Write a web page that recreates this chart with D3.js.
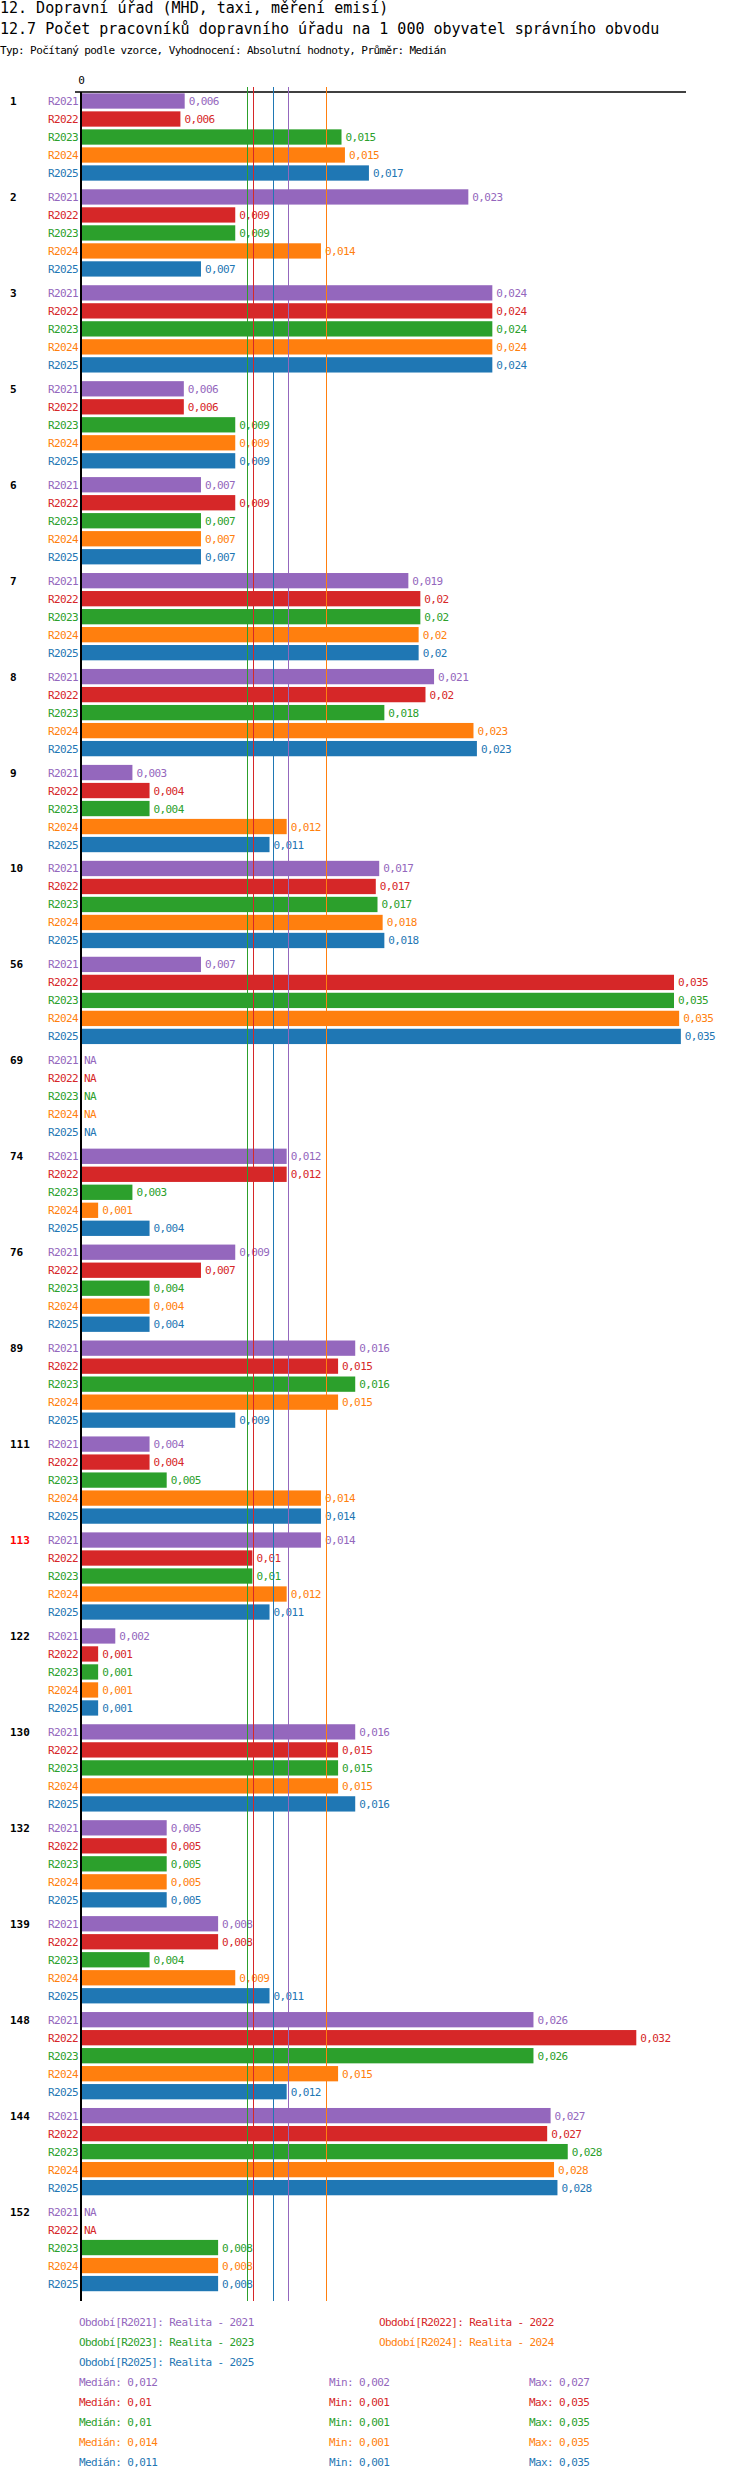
<!DOCTYPE html>
<html>
<head>
<meta charset="utf-8">
<script src="https://cdn.jsdelivr.net/npm/d3@7"></script>
<style>
  body { margin: 0; background: #fff; }
  text { font-family: "DejaVu Sans Mono", monospace; }
</style>
</head>
<body>
<div id="chart"></div>
<script>
// groups (správní obvody) and periods
var groups = ["1","2","3","5","6","7","8","9","10","56","69","74","76","89","111","113","122","130","132","139","148","144","152"];
var periods = ["R2021","R2022","R2023","R2024","R2025"];
var colors = ["#9467bd","#d62728","#2ca02c","#ff7f0e","#1f77b4"];
var highlight = "113";

// values per period, null = NA
var r2021 = [0.00605,0.0226,0.024,0.006,0.007,0.0191,0.0206,0.003,0.0174,0.007,null,0.012,0.009,0.016,0.004,0.014,0.002,0.016,0.005,0.008,0.0264,0.0274,null];
var r2022 = [0.0058,0.009,0.024,0.006,0.009,0.0198,0.0201,0.004,0.0172,0.0346,null,0.012,0.007,0.015,0.004,0.010,0.001,0.015,0.005,0.008,0.0324,0.0272,null];
var r2023 = [0.0152,0.009,0.024,0.009,0.007,0.0198,0.0177,0.004,0.0173,0.0346,null,0.003,0.004,0.016,0.005,0.010,0.001,0.015,0.005,0.004,0.0264,0.0284,0.008];
var r2024 = [0.0154,0.014,0.024,0.009,0.007,0.0197,0.0229,0.012,0.0176,0.0349,null,0.001,0.004,0.015,0.014,0.012,0.001,0.015,0.005,0.009,0.015,0.0276,0.008];
var r2025 = [0.0168,0.007,0.024,0.009,0.007,0.0197,0.0231,0.011,0.0177,0.035,null,0.004,0.004,0.009,0.014,0.011,0.001,0.016,0.005,0.011,0.012,0.0278,0.008];
var series = [r2021, r2022, r2023, r2024, r2025];

// summary per period
var medians = [0.0121, 0.01005, 0.0097, 0.0143, 0.0112];
var mins = [0.002, 0.001, 0.001, 0.001, 0.001];
var maxs = [0.027, 0.035, 0.035, 0.035, 0.035];
var legendNames = ["Období[R2021]: Realita - 2021","Období[R2022]: Realita - 2022","Období[R2023]: Realita - 2023","Období[R2024]: Realita - 2024","Období[R2025]: Realita - 2025"];

var titles = [
  "12. Dopravní úřad (MHD, taxi, měření emisí)",
  "12.7 Počet pracovníků dopravního úřadu na 1 000 obyvatel správního obvodu",
  "Typ: Počítaný podle vzorce, Vyhodnocení: Absolutní hodnoty, Průměr: Medián"
];

var w = 750, h = 2480;

var fmt = function(v) {
  return d3.format(".3f")(v).replace(/0+$/, "").replace(".", ",");
};

var svg = d3.select("#chart")
            .append("svg")
            .attr("width", w)
            .attr("height", h);

// titles
svg.append("text").attr("x", 0).attr("y", 13).style("font-size", "15px").text(titles[0]);
svg.append("text").attr("x", 0).attr("y", 34).style("font-size", "15px").text(titles[1]);
svg.append("text").attr("x", 0).attr("y", 54).style("font-size", "11px")
   .style("letter-spacing", "-0.6px").text(titles[2]);

var x = d3.scaleLinear().domain([0, 0.0353]).range([81, 686]);
var yGroup = d3.scaleBand().domain(groups).range([92, 2298.5]);
var yBar = d3.scaleBand().domain(periods).range([0, 90])
             .paddingInner(0.15).paddingOuter(0.075);

// top axis with only 0
svg.append("g")
   .attr("transform", "translate(0,92)")
   .call(d3.axisTop(x).tickValues([0]).tickSize(0).tickPadding(8).tickFormat(d3.format("d")))
   .call(function(g) {
     g.select(".domain").remove();
     g.selectAll("text").style("font-family", "DejaVu Sans Mono").style("font-size", "11px").attr("fill", "#000");
   });

svg.append("line")
   .attr("x1", 75).attr("x2", 686)
   .attr("y1", 92).attr("y2", 92)
   .attr("stroke", "#000").attr("stroke-width", 1.3);

// rows
var rows = [];
groups.forEach(function(g, gi) {
  periods.forEach(function(p, pi) {
    rows.push({ group: g, period: p, pi: pi, value: series[pi][gi] });
  });
});

var small = function(sel) {
  return sel.style("font-size", "11px").style("letter-spacing", "-0.6px");
};

var gGroups = svg.selectAll("g.grp")
    .data(groups)
    .enter()
    .append("g")
    .attr("class", "grp")
    .attr("transform", function(d) { return "translate(0," + yGroup(d) + ")"; });

gGroups.append("text")
    .attr("x", 10)
    .attr("y", yBar("R2021") + yBar.bandwidth() / 2 + 4)
    .style("font-size", "11px")
    .style("font-weight", "bold")
    .attr("fill", function(d) { return d === highlight ? "#ff0000" : "#000"; })
    .text(function(d) { return d; });

var rowG = svg.selectAll("g.row")
    .data(rows)
    .enter()
    .append("g")
    .attr("class", "row")
    .attr("transform", function(d) { return "translate(0," + (yGroup(d.group) + yBar(d.period)) + ")"; });

rowG.append("text")
    .attr("x", 78)
    .attr("y", yBar.bandwidth() / 2 + 4)
    .attr("text-anchor", "end")
    .attr("fill", function(d) { return colors[d.pi]; })
    .call(small)
    .text(function(d) { return d.period; });

rowG.filter(function(d) { return d.value != null; })
    .append("rect")
    .attr("x", x(0))
    .attr("y", 0)
    .attr("width", function(d) { return x(d.value) - x(0); })
    .attr("height", yBar.bandwidth())
    .attr("fill", function(d) { return colors[d.pi]; });

rowG.append("text")
    .attr("x", function(d) { return d.value == null ? x(0) + 3 : x(d.value) + 4; })
    .attr("y", yBar.bandwidth() / 2 + 4)
    .attr("fill", function(d) { return colors[d.pi]; })
    .call(small)
    .text(function(d) { return d.value == null ? "NA" : fmt(d.value); });

// median lines
svg.selectAll("line.med")
    .data(medians)
    .enter()
    .append("line")
    .attr("class", "med")
    .attr("x1", function(d) { return Math.round(x(d)) + 0.5; })
    .attr("x2", function(d) { return Math.round(x(d)) + 0.5; })
    .attr("y1", 87)
    .attr("y2", 2301)
    .attr("stroke", function(d, i) { return colors[i]; })
    .attr("stroke-width", 1);

// vertical axis line
svg.append("line")
   .attr("x1", 81).attr("x2", 81)
   .attr("y1", 92).attr("y2", 2301)
   .attr("stroke", "#000").attr("stroke-width", 2);

// legend
svg.selectAll("text.leg")
    .data(legendNames)
    .enter()
    .append("text")
    .attr("class", "leg")
    .attr("x", function(d, i) { return i % 2 === 0 ? 79 : 379; })
    .attr("y", function(d, i) { return 2326 + Math.floor(i / 2) * 20; })
    .attr("fill", function(d, i) { return colors[i]; })
    .call(small)
    .text(function(d) { return d; });

var stats = [
  { label: "Medián: ", vals: medians, x: 79 },
  { label: "Min: ", vals: mins, x: 329 },
  { label: "Max: ", vals: maxs, x: 529 }
];
stats.forEach(function(s) {
  svg.selectAll(null)
     .data(s.vals)
     .enter()
     .append("text")
     .attr("x", s.x)
     .attr("y", function(d, i) { return 2386 + i * 20; })
     .attr("fill", function(d, i) { return colors[i]; })
     .style("white-space", "pre")
     .call(small)
     .text(function(d) { return s.label + fmt(d); });
});
</script>
</body>
</html>
